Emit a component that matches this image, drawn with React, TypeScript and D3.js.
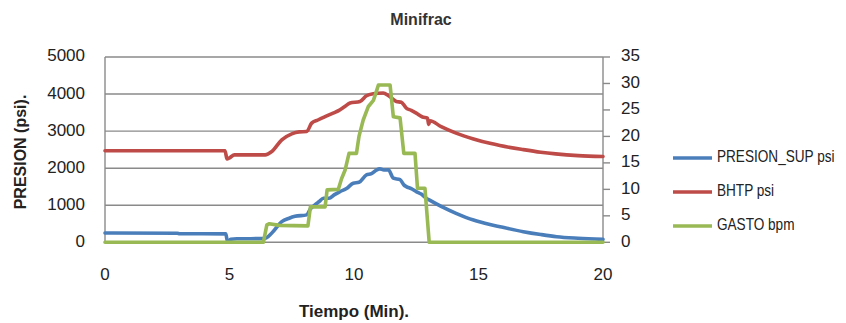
import React from "react";
import * as d3 from "d3";

const title = "Minifrac";
const xTitle = "Tiempo (Min).";
const yTitle = "PRESION (psi).";
const seriesNames = ["PRESION_SUP psi", "BHTP psi", "GASTO bpm"];
const seriesColors = ["#4a7ebb", "#be4b48", "#98b954"];

const xTicks = [0, 5, 10, 15, 20];
const yLeftTicks = [0, 1000, 2000, 3000, 4000, 5000];
const yRightTicks = [0, 5, 10, 15, 20, 25, 30, 35];

const tSup = [0, 2.9, 3.0, 4.85, 4.92, 5.05, 5.3, 6.4, 6.7, 7.1, 7.4, 7.63, 8.1, 8.25, 8.43, 8.6, 8.77, 9.0, 9.2, 9.44, 9.7, 9.97, 10.2, 10.5, 10.7, 10.9, 11.04, 11.2, 11.38, 11.58, 11.85, 12.0, 12.1, 12.3, 12.5, 12.7, 12.9, 13.0, 13.5, 14.1, 14.8, 15.46, 15.86, 16.8, 17.5, 18.14, 19.0, 20];
const vSup = [250, 245, 230, 228, 20, 80, 95, 100, 250, 557, 650, 700, 740, 900, 1010, 1100, 1190, 1190, 1280, 1370, 1450, 1594, 1620, 1819, 1850, 1950, 1981, 1950, 1954, 1730, 1690, 1550, 1503, 1450, 1368, 1300, 1189, 1150, 970, 783, 600, 480, 420, 287, 210, 151, 110, 80];

const tBhtp = [0, 4.82, 4.9, 5.0, 5.2, 6.43, 6.7, 7.1, 7.5, 7.8, 8.1, 8.3, 8.55, 8.8, 9.16, 9.4, 9.6, 9.84, 10.24, 10.5, 10.77, 11.17, 11.4, 11.7, 11.9, 12.1, 12.3, 12.5, 12.75, 12.95, 13.0, 13.05, 13.5, 14.1, 14.8, 15.46, 15.86, 16.8, 17.5, 18.1, 19.0, 20];
const vBhtp = [2470, 2470, 2250, 2280, 2360, 2360, 2450, 2765, 2927, 2980, 2990, 3216, 3300, 3380, 3486, 3560, 3650, 3757, 3800, 3954, 4008, 4027, 3950, 3800, 3780, 3621, 3560, 3486, 3380, 3350, 3180, 3280, 3120, 2946, 2790, 2670, 2610, 2500, 2430, 2386, 2340, 2314];

const tGasto = [0, 6.36, 6.5, 6.6, 7.0, 8.15, 8.25, 8.84, 8.92, 9.37, 9.5, 9.64, 9.8, 10.1, 10.2, 10.37, 10.57, 10.78, 10.9, 10.98, 11.45, 11.58, 11.85, 12.0, 12.45, 12.55, 12.85, 13.02, 20];
const vGasto = [0, 0, 3.3, 3.5, 3.2, 3.1, 6.7, 6.7, 9.9, 10.0, 12, 13.6, 16.8, 16.8, 20, 23.1, 25.6, 26.8, 28.5, 29.7, 29.7, 23.7, 23.5, 16.8, 16.8, 10.2, 10.2, 0, 0];

const W = 846;
const H = 323;
const plot = { left: 105, right: 603, top: 57, bottom: 242.3 };
const FONT = "'Liberation Sans', Arial, sans-serif";

export default function App() {
  const x = d3.scaleLinear().domain([0, 20]).range([plot.left, plot.right]);
  const yL = d3.scaleLinear().domain([0, 5000]).range([plot.bottom, plot.top]);
  const yR = d3.scaleLinear().domain([0, 35]).range([plot.bottom, plot.top]);

  const lineL = d3.line<[number, number]>().x((d) => x(d[0])).y((d) => yL(d[1])).curve(d3.curveMonotoneX);
  const lineR = d3.line<[number, number]>().x((d) => x(d[0])).y((d) => yR(d[1]));

  const zip = (a: number[], b: number[]) => a.map((t, i) => [t, b[i]] as [number, number]);
  const paths = [
    lineL(zip(tSup, vSup)),
    lineL(zip(tBhtp, vBhtp)),
    lineR(zip(tGasto, vGasto)),
  ];

  const legendY = [158, 192, 226];

  return (
    <svg width={W} height={H} style={{ position: "absolute", left: 0, top: 0, background: "#fff" }} fontFamily={FONT}>
      <rect x={0} y={0} width={W} height={H} fill="#fff" />
      <text x={421} y={21} textAnchor="middle" dominantBaseline="middle" fontSize={16} fontWeight="bold" fill="#333">
        {title}
      </text>
      {yLeftTicks.map((v) => (
        <line key={"g" + v} x1={plot.left} x2={plot.right} y1={yL(v)} y2={yL(v)} stroke="#8a8a8a" strokeWidth={1.4} />
      ))}
      <line x1={plot.left} x2={plot.left} y1={plot.top} y2={plot.bottom} stroke="#8a8a8a" strokeWidth={1.4} />
      <line x1={plot.right} x2={plot.right} y1={plot.top} y2={plot.bottom} stroke="#8a8a8a" strokeWidth={1.4} />
      {yRightTicks.map((v) => (
        <line key={"rt" + v} x1={plot.right} x2={plot.right + 7} y1={yR(v)} y2={yR(v)} stroke="#8a8a8a" strokeWidth={1.4} />
      ))}
      {yLeftTicks.map((v) => (
        <text key={"yl" + v} x={85} y={yL(v)} textAnchor="end" dominantBaseline="middle" fontSize={17} fill="#222">
          {v}
        </text>
      ))}
      {yRightTicks.map((v) => (
        <text key={"yr" + v} x={621} y={yR(v)} textAnchor="start" dominantBaseline="middle" fontSize={17} fill="#222">
          {v}
        </text>
      ))}
      {xTicks.map((v) => (
        <text key={"x" + v} x={x(v)} y={276} textAnchor="middle" dominantBaseline="middle" fontSize={17} fill="#222">
          {v}
        </text>
      ))}
      <text x={354} y={313} textAnchor="middle" dominantBaseline="middle" fontSize={17} fontWeight="bold" fill="#222">
        {xTitle}
      </text>
      <text transform="translate(22,152) rotate(-90)" textAnchor="middle" dominantBaseline="middle" fontSize={16} fontWeight="bold" fill="#222">
        {yTitle}
      </text>
      {paths.map((p, i) => (
        <path key={"s" + i} d={p || ""} fill="none" stroke={seriesColors[i]} strokeWidth={3.6} strokeLinejoin="round" strokeLinecap="round" />
      ))}
      {seriesNames.map((n, i) => (
        <g key={"lg" + i}>
          <line x1={673} x2={712} y1={legendY[i]} y2={legendY[i]} stroke={seriesColors[i]} strokeWidth={3.6} />
          <g transform={`translate(717,${legendY[i]}) scale(0.85,1)`}>
            <text x={0} y={0} dominantBaseline="middle" fontSize={16} fill="#222">
              {n}
            </text>
          </g>
        </g>
      ))}
    </svg>
  );
}
